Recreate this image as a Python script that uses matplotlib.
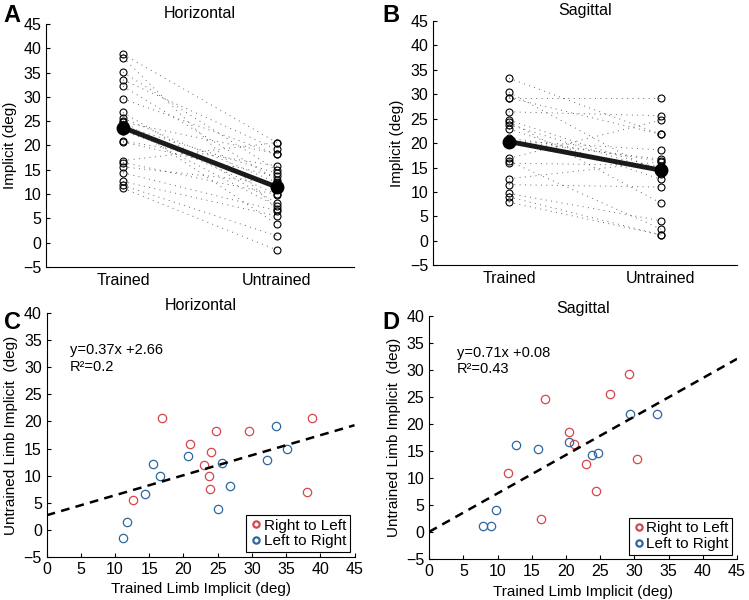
import numpy as np
import matplotlib.pyplot as plt

plt.rcParams['font.family'] = ['Liberation Sans', 'DejaVu Sans']

# Horizontal (panel A/C): trained vs untrained implicit, per subject
hor_rl_trained = [12.6, 16.9, 20.9, 23.0, 23.7, 23.9, 24.0, 24.8, 29.6, 38.1, 38.8]
hor_rl_untrained = [5.5, 20.6, 15.8, 11.9, 10.0, 7.5, 14.3, 18.3, 18.2, 6.9, 20.6]
hor_lr_trained = [11.2, 11.8, 14.4, 15.6, 16.5, 20.7, 25.1, 25.6, 26.8, 32.2, 33.5, 35.1]
hor_lr_untrained = [-1.5, 1.4, 6.6, 12.2, 9.9, 13.7, 3.8, 12.4, 8.1, 12.9, 19.2, 14.9]

# Sagittal (panel B/D)
sag_rl_trained = [16.9, 26.4, 29.2, 20.5, 21.1, 11.5, 22.9, 24.4, 30.4, 16.3]
sag_rl_untrained = [24.7, 25.6, 29.2, 18.6, 16.3, 11.0, 12.6, 7.7, 13.6, 2.4]
sag_lr_trained = [12.7, 15.9, 20.5, 23.8, 24.7, 29.3, 33.3, 9.7, 7.9, 9.0]
sag_lr_untrained = [16.2, 15.4, 16.7, 14.2, 14.6, 21.8, 21.8, 4.1, 1.2, 1.2]

# fit lines as printed
hor_fit = (0.37, 2.66, '0.2')
sag_fit = (0.71, 0.08, '0.43')

conditions = ['Trained', 'Untrained']
red = '#d6464c'
blue = '#2e67a0'

fig = plt.figure(figsize=(7.49, 6.0), dpi=100)
axA = fig.add_axes([0.0614, 0.555, 0.411, 0.405])
axB = fig.add_axes([0.578, 0.558, 0.406, 0.407])
axC = fig.add_axes([0.0623, 0.0722, 0.411, 0.4056])
axD = fig.add_axes([0.573, 0.0678, 0.411, 0.406])


def style(ax):
    for s in ['top', 'right']:
        ax.spines[s].set_visible(False)
    ax.tick_params(direction='in', length=3, labelsize=11.5, width=0.8)


def paired(ax, tr, un, title):
    tr = np.array(tr)
    un = np.array(un)
    for a, b in zip(tr, un):
        ax.plot([1, 2], [a, b], color='k', ls=(0, (1, 4.5)), lw=0.7, alpha=0.6)
    ax.plot(np.ones(len(tr)), tr, 'o', mfc='none', mec='k', ms=5, mew=0.8)
    ax.plot(np.ones(len(un)) * 2, un, 'o', mfc='none', mec='k', ms=5, mew=0.8)
    ax.plot([1, 2], [tr.mean(), un.mean()], '-', color='#1a1a1a', lw=3.5)
    ax.plot([1, 2], [tr.mean(), un.mean()], 'o', color='k', ms=9)
    ax.set_xlim(0.5, 2.5)
    ax.set_ylim(-5, 45)
    ax.set_yticks(range(-5, 46, 5))
    ax.set_xticks([1, 2])
    ax.set_ylabel('Implicit (deg)', fontsize=11)
    ax.set_title(title, fontsize=11.5, pad=4)
    style(ax)
    ax.set_xticklabels(conditions, fontsize=11.5)
    ax.tick_params(axis='x', length=0, pad=4)


def scatter(ax, rl_x, rl_y, lr_x, lr_y, fit, title, tx):
    ax.plot(rl_x, rl_y, 'o', mfc='none', mec=red, ms=6, mew=0.9, label='Right to Left')
    ax.plot(lr_x, lr_y, 'o', mfc='none', mec=blue, ms=6, mew=0.9, label='Left to Right')
    xs = np.array([0, 45])
    ax.plot(xs, fit[0] * xs + fit[1], '--', color='k', lw=1.8, dashes=(3.5, 2.5))
    ax.text(tx, 33.2, 'y=%.2fx +%.2f' % (fit[0], fit[1]), fontsize=10.5, va='center')
    ax.text(tx, 30.1, 'R\u00b2=' + fit[2], fontsize=10.5, va='center')
    ax.set_xlim(0, 45)
    ax.set_ylim(-5, 40)
    ax.set_xticks(range(0, 46, 5))
    ax.set_yticks(range(-5, 41, 5))
    ax.set_xlabel('Trained Limb Implicit (deg)', fontsize=11)
    ax.set_ylabel('Untrained Limb Implicit  (deg)', fontsize=11)
    ax.set_title(title, fontsize=11.5, pad=2)
    leg = ax.legend(loc='lower right', fontsize=11, handletextpad=0.1, handlelength=0.8,
                    borderpad=0.25, labelspacing=0.1, fancybox=False, framealpha=1,
                    edgecolor='k', markerscale=0.75, borderaxespad=0.3)
    leg.get_frame().set_linewidth(0.8)
    for h in leg.legend_handles:
        h.set_markeredgewidth(1.6)
    style(ax)


paired(axA, hor_rl_trained + hor_lr_trained, hor_rl_untrained + hor_lr_untrained, 'Horizontal')
paired(axB, sag_rl_trained + sag_lr_trained, sag_rl_untrained + sag_lr_untrained, 'Sagittal')
scatter(axC, hor_rl_trained, hor_rl_untrained, hor_lr_trained, hor_lr_untrained, hor_fit, 'Horizontal', 3.4)
scatter(axD, sag_rl_trained, sag_rl_untrained, sag_lr_trained, sag_lr_untrained, sag_fit, 'Sagittal', 4.1)

for lab, x, y in [('A', 0.005, 0.975), ('B', 0.51, 0.975), ('C', 0.005, 0.463), ('D', 0.51, 0.463)]:
    fig.text(x, y, lab, fontsize=17, fontweight='bold', va='center', ha='left')

fig.savefig('out.png', dpi=100)
